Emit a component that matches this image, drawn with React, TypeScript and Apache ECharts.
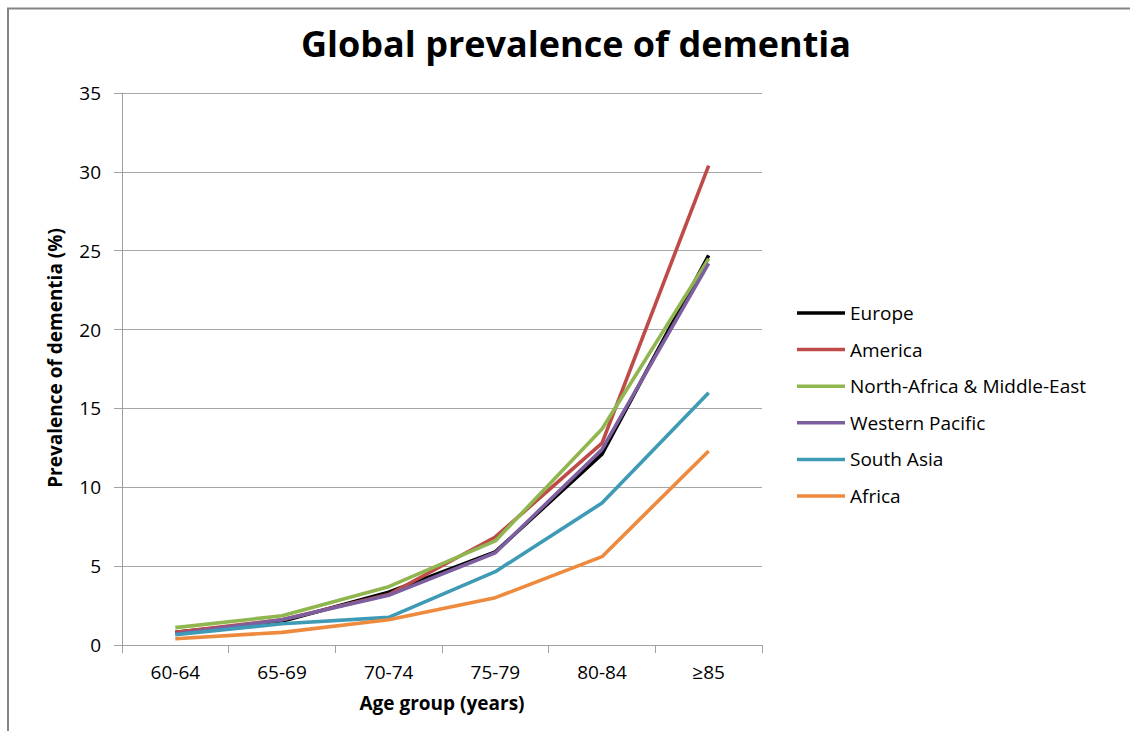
import React, { useEffect, useRef } from "react";
import * as echarts from "echarts";

const categories = ["60-64", "65-69", "70-74", "75-79", "80-84", "≥85"];
const europe = [0.8, 1.5, 3.35, 5.9, 12.1, 24.7];
const america = [0.8, 1.6, 3.2, 6.85, 12.8, 30.4];
const northAfricaMiddleEast = [1.1, 1.85, 3.7, 6.6, 13.7, 24.5];
const westernPacific = [0.7, 1.6, 3.15, 5.85, 12.4, 24.2];
const southAsia = [0.65, 1.35, 1.75, 4.65, 9.0, 16.0];
const africa = [0.4, 0.8, 1.6, 3.0, 5.6, 12.3];

const seriesNames = [
  "Europe",
  "America",
  "North-Africa & Middle-East",
  "Western Pacific",
  "South Asia",
  "Africa",
];
const seriesData = [europe, america, northAfricaMiddleEast, westernPacific, southAsia, africa];
const seriesColors = ["#000000", "#be4b48", "#8fb64f", "#7d5fa0", "#3f9ab5", "#ee8a3e"];

const yTicks = [0, 5, 10, 15, 20, 25, 30, 35];

const FONT = "'Open Sans', 'DejaVu Sans', sans-serif";

export default function App() {
  const ref = useRef<HTMLDivElement>(null);

  useEffect(() => {
    document.body.style.margin = "0";
    if (!ref.current) return;
    const chart = echarts.init(ref.current, undefined, { renderer: "svg" });
    chart.setOption({
      animation: false,
      backgroundColor: "#ffffff",
      title: {
        text: "Global prevalence of dementia",
        left: 571,
        top: 20,
        textAlign: "center",
        textStyle: {
          fontFamily: FONT,
          fontWeight: "bold",
          fontSize: 36,
          color: "#000",
        },
      },
      graphic: [
        {
          type: "polyline",
          shape: { points: [[8, 731], [8, 8.5], [1130, 8.5]] },
          style: { stroke: "#848484", lineWidth: 2, fill: "none" },
          silent: true,
        },
      ],
      legend: {
        orient: "vertical",
        left: 792,
        top: 297,
        icon: "rect",
        itemWidth: 48,
        itemHeight: 3.5,
        itemGap: 14.6,
        textStyle: {
          fontFamily: FONT,
          fontSize: 19,
          lineHeight: 22,
          color: "#000",
        },
        data: seriesNames,
      },
      grid: {
        left: 122,
        right: 368,
        top: 93,
        bottom: 86,
        containLabel: false,
      },
      xAxis: {
        type: "category",
        data: categories,
        boundaryGap: true,
        name: "Age group (years)",
        nameLocation: "middle",
        nameGap: 48,
        nameTextStyle: {
          fontFamily: FONT,
          fontWeight: "bold",
          fontSize: 19,
          color: "#000",
        },
        axisLine: { show: true, lineStyle: { color: "#a0a0a0", width: 1 } },
        axisTick: { show: true, length: 8, lineStyle: { color: "#a0a0a0" } },
        axisLabel: {
          fontFamily: FONT,
          fontSize: 19,
          color: "#000",
          margin: 17,
        },
        splitLine: { show: false },
      },
      yAxis: {
        type: "value",
        min: yTicks[0],
        max: yTicks[yTicks.length - 1],
        interval: 5,
        name: "Prevalence of dementia (%)",
        nameLocation: "middle",
        nameRotate: 90,
        nameGap: 58,
        nameTextStyle: {
          fontFamily: FONT,
          fontWeight: "bold",
          fontSize: 19,
          color: "#000",
          padding: [0, 0, 0, 22],
        },
        axisLine: { show: true, lineStyle: { color: "#a0a0a0", width: 1 } },
        axisTick: { show: true, length: 8, lineStyle: { color: "#a0a0a0" } },
        axisLabel: {
          fontFamily: FONT,
          fontSize: 19,
          color: "#000",
          margin: 21,
        },
        splitLine: { show: true, lineStyle: { color: "#a6a6a6", width: 1 } },
      },
      series: seriesNames.map((name, i) => ({
        name,
        type: "line",
        data: seriesData[i],
        showSymbol: false,
        symbol: "none",
        lineStyle: { color: seriesColors[i], width: 3.6 },
        itemStyle: { color: seriesColors[i] },
        z: 2 + i,
      })),
    });
    return () => chart.dispose();
  }, []);

  return <div ref={ref} style={{ width: 1130, height: 731, overflow: "hidden" }} />;
}
